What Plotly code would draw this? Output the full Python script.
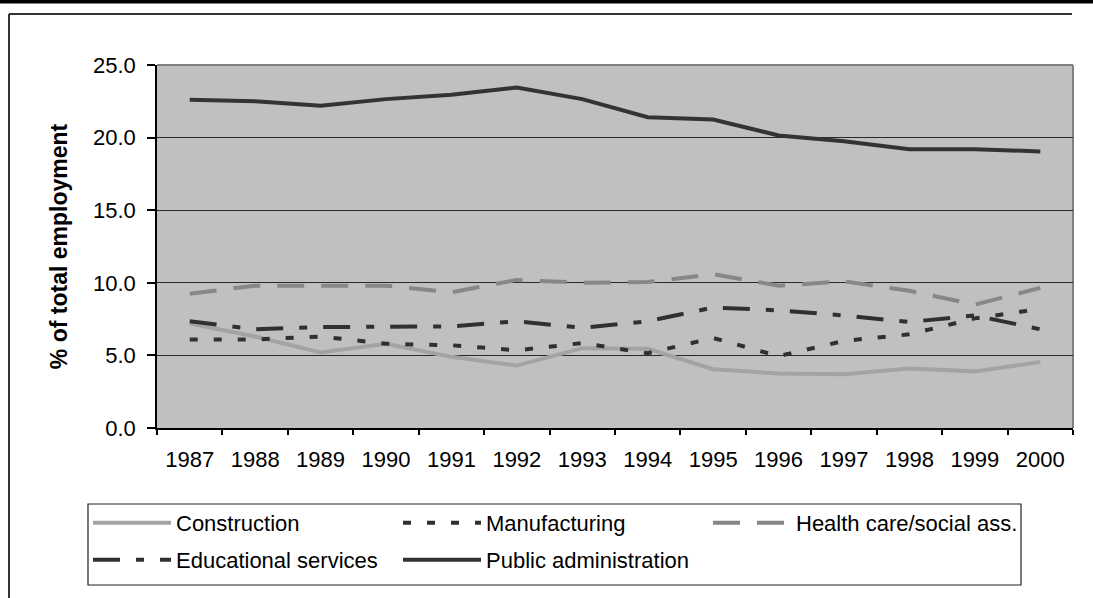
import plotly.graph_objects as go

# Employment shares by sector, 1987-2000 (% of total employment)
years = [str(y) for y in range(1987, 2001)]

construction = [7.2, 6.3, 5.2, 5.8, 4.9, 4.3, 5.5, 5.45, 4.05, 3.75, 3.7, 4.1, 3.9, 4.55]
manufacturing = [6.1, 6.1, 6.3, 5.8, 5.7, 5.35, 5.85, 5.15, 6.2, 4.95, 6.0, 6.45, 7.55, 8.2]
health_care = [9.25, 9.8, 9.8, 9.8, 9.35, 10.2, 10.0, 10.05, 10.6, 9.8, 10.1, 9.45, 8.5, 9.65]
education = [7.35, 6.8, 6.95, 7.0, 7.0, 7.35, 6.9, 7.35, 8.3, 8.1, 7.75, 7.3, 7.75, 6.8]
public_admin = [22.6, 22.5, 22.2, 22.65, 22.95, 23.45, 22.65, 21.4, 21.25, 20.15, 19.75, 19.2, 19.2, 19.05]

series = [
    ("Construction", construction, "#a3a3a3", "solid", "legend"),
    ("Manufacturing", manufacturing, "#303030", "8px,16px", "legend"),
    ("Health care/social ass.", health_care, "#878787", "27px,17px", "legend"),
    ("Educational services", education, "#303030", "27px,16px,8px,16px", "legend2"),
    ("Public administration", public_admin, "#333333", "solid", "legend2"),
]

FONT = "Liberation Sans, Arial, sans-serif"

fig = go.Figure()
for name, vals, color, dash, leg in series:
    fig.add_trace(go.Scatter(
        x=years, y=vals, name=name, mode="lines",
        line=dict(color=color, width=4, dash=dash),
        legend=leg,
    ))

# plot area in pixels: x 157..1073, y 65..428
def fx(px):
    return (px - 157) / 916.0

def fy(py):
    return (428 - py) / 363.0

shapes = [
    # black band across the top
    dict(type="rect", xref="paper", yref="paper", x0=fx(0), x1=fx(1093),
         y0=fy(3.5), y1=fy(0), fillcolor="black", line=dict(width=0)),
    # outer chart frame: top and left edges
    dict(type="line", xref="paper", yref="paper", x0=fx(9), x1=fx(1072),
         y0=fy(14), y1=fy(14), line=dict(color="#333333", width=2)),
    dict(type="line", xref="paper", yref="paper", x0=fx(9), x1=fx(9),
         y0=fy(14), y1=fy(598), line=dict(color="#333333", width=2)),
    # legend box
    dict(type="rect", xref="paper", yref="paper", x0=fx(88), x1=fx(1021),
         y0=fy(585), y1=fy(504), line=dict(color="#222222", width=1.2)),
    # plot-area border (top and right)
    dict(type="line", xref="paper", yref="paper", x0=0, x1=1, y0=1, y1=1,
         line=dict(color="#808080", width=2), layer="below"),
    dict(type="line", xref="paper", yref="paper", x0=1, x1=1, y0=0, y1=1,
         line=dict(color="#808080", width=2), layer="below"),
]

legend_common = dict(
    orientation="h", xanchor="left", yanchor="middle",
    font=dict(family=FONT, size=22, color="black"),
    bgcolor="rgba(0,0,0,0)", borderwidth=0,
    itemwidth=78, entrywidth=217, entrywidthmode="pixels",
    traceorder="normal",
)

fig.update_layout(
    width=1093, height=598,
    margin=dict(l=157, r=20, t=65, b=170),
    paper_bgcolor="white", plot_bgcolor="#c0c0c0",
    font=dict(family=FONT, size=22, color="black"),
    showlegend=True,
    legend=dict(x=fx(88), y=fy(523), **legend_common),
    legend2=dict(x=fx(88), y=fy(560), **legend_common),
    shapes=shapes,
    xaxis=dict(
        type="category", range=[-0.5, 13.5], tickson="boundaries",
        ticks="outside", ticklen=5, tickcolor="black", tickwidth=1.5,
        showline=True, linecolor="black", linewidth=1.5,
        showgrid=False, ticklabelstandoff=11,
        tickfont=dict(family=FONT, size=22, color="black"),
    ),
    yaxis=dict(
        range=[0, 25], dtick=5, tickformat=".1f",
        ticks="outside", ticklen=8, tickcolor="black", tickwidth=1.5,
        showline=True, linecolor="black", linewidth=1.5,
        showgrid=True, gridcolor="#2a2a2a", gridwidth=1, zeroline=False,
        ticklabelstandoff=7,
        tickfont=dict(family=FONT, size=22, color="black"),
        title=dict(text="<b>% of total employment</b>", standoff=19,
                   font=dict(family=FONT, size=23, color="black")),
    ),
)

fig.write_html("out.html")
